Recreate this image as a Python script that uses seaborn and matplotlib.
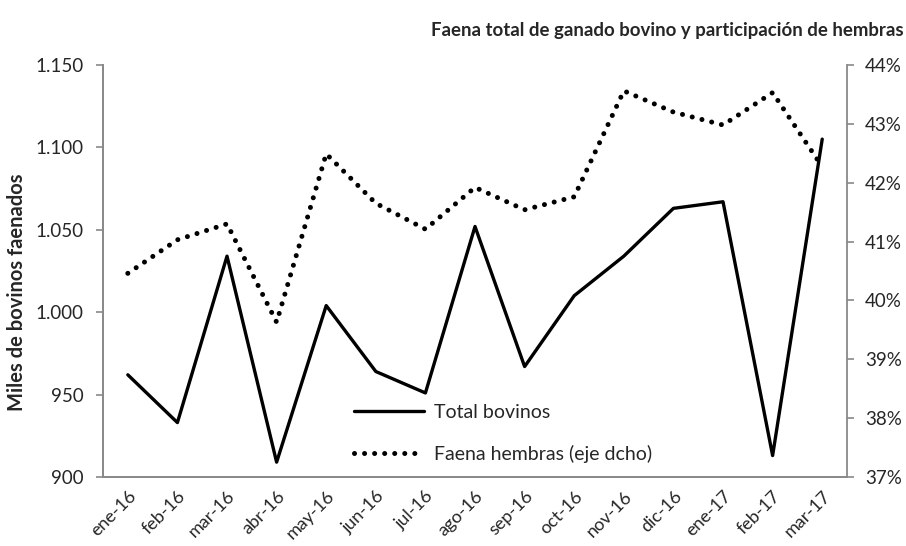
import matplotlib
matplotlib.use('Agg')
import matplotlib.pyplot as plt
import matplotlib.ticker as mticker
import seaborn as sns
import pandas as pd
import numpy as np

meses = ['ene-16', 'feb-16', 'mar-16', 'abr-16', 'may-16', 'jun-16', 'jul-16', 'ago-16',
         'sep-16', 'oct-16', 'nov-16', 'dic-16', 'ene-17', 'feb-17', 'mar-17']
total_bovinos = [962, 933, 1034, 909, 1004, 964, 951, 1052, 967, 1010, 1034, 1063, 1067, 913, 1105]
pct_hembras = [40.46, 41.03, 41.30, 39.63, 42.49, 41.65, 41.21, 41.92, 41.54, 41.76,
               43.56, 43.20, 42.98, 43.53, 42.27]

df = pd.DataFrame({'pos': np.arange(len(meses)), 'mes': meses,
                   'total': total_bovinos, 'hembras': pct_hembras})

sns.set_style('white')
plt.rcParams['font.family'] = ['Lato', 'DejaVu Sans']

fig = plt.figure(figsize=(9.06, 5.46), dpi=100)
ax = fig.add_axes([0.1137, 0.1264, 0.8212, 0.7546])
ax2 = ax.twinx()

gris = '#898989'

sns.lineplot(data=df, x='pos', y='total', ax=ax, color='black', linewidth=2.4,
             label='Total bovinos', legend=False)
sns.lineplot(data=df, x='pos', y='hembras', ax=ax2, color='black', linewidth=3.6,
             label='Faena hembras (eje dcho)', legend=False)
ax2.lines[0].set_linestyle((0, (0.01, 2.0)))
ax2.lines[0].set_dash_capstyle('round')

ax.set_xlim(-0.5, len(meses) - 0.5)
ax.set_ylim(900, 1150)
ax2.set_ylim(37, 44)
ax.set_yticks([900, 950, 1000, 1050, 1100, 1150])
ax.yaxis.set_major_formatter(mticker.FuncFormatter(lambda v, p: f'{v:,.0f}'.replace(',', '.')))
ax2.set_yticks(range(37, 45))
ax2.yaxis.set_major_formatter(mticker.FuncFormatter(lambda v, p: f'{v:.0f}%'))

ax.set_xticks(df['pos'])
ax.set_xticklabels(meses, rotation=45, ha='right', rotation_mode='anchor')
ax.set_xticks(np.arange(-0.5, len(meses)), minor=True)
ax.tick_params(axis='x', which='major', length=0, pad=8, labelsize=13)
ax.tick_params(axis='x', which='minor', length=5, width=1.2, color=gris, direction='out')
ax.tick_params(axis='y', length=5, width=1.2, color=gris, direction='out', labelsize=13.5, pad=9)
ax2.tick_params(axis='y', length=5, width=1.2, color=gris, direction='out', labelsize=13.5, pad=8)
ax.set_xlabel('')
ax.set_ylabel('Miles de bovinos faenados', fontsize=14.5, fontweight='bold')
ax.yaxis.set_label_coords(-0.102, 0.449)
ax2.set_ylabel('')

for a in (ax, ax2):
    a.spines['top'].set_visible(False)
    for s in ('left', 'right', 'bottom'):
        a.spines[s].set_color(gris)
        a.spines[s].set_linewidth(1.3)
ax.spines['right'].set_visible(False)

handles = ax.lines[:1] + ax2.lines[:1]
ax.legend(handles, ['Total bovinos', 'Faena hembras (eje dcho)'], loc='upper left',
          bbox_to_anchor=(0.314, 0.22), frameon=False, fontsize=14,
          handlelength=3.6, labelspacing=1.25, handletextpad=0.5)

fig.text(0.997, 0.945, 'Faena total de ganado bovino y participación de hembras',
         ha='right', va='center', fontsize=13.4, fontweight='bold')

fig.savefig('out.png', dpi=100)
